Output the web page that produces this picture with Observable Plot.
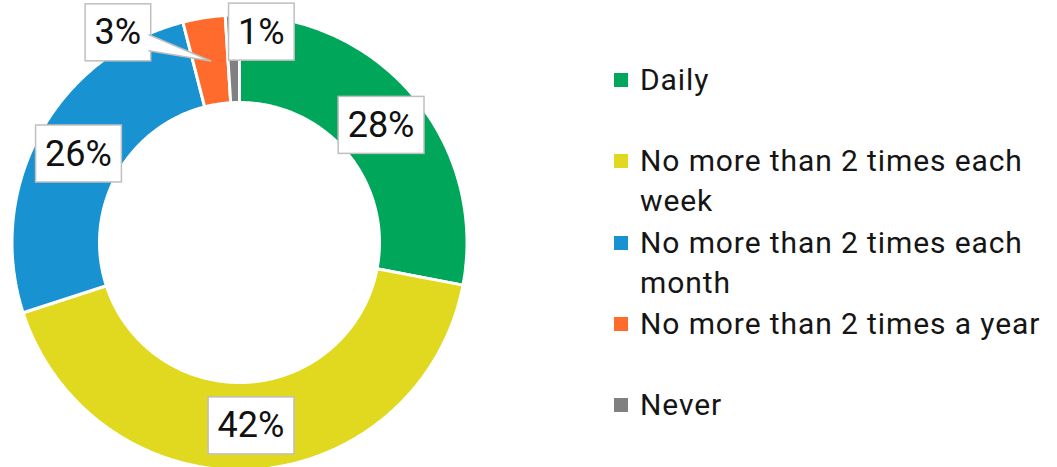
<!DOCTYPE html>
<html>
<head>
<meta charset="utf-8">
<script src="https://cdn.jsdelivr.net/npm/d3@7"></script>
<script src="https://cdn.jsdelivr.net/npm/@observablehq/plot@0.6"></script>
<style>
  html, body { margin: 0; padding: 0; background: #fff; }
  #wrap { position: relative; width: 1057px; height: 467px; overflow: hidden; font-family: Roboto, sans-serif; }
  #legend { position: absolute; left: 614px; top: 60px; width: 443px; }
  .item { display: flex; align-items: flex-start; height: 81.25px; }
  .sw { width: 14px; height: 14px; margin-top: 13px; margin-right: 12px; flex: none; }
  .lab { font-size: 30px; line-height: 40px; letter-spacing: 0.9px; color: #151515; width: 417px; }
</style>
</head>
<body>
<div id="wrap"><div id="legend"></div></div>
<script>
// ---- data ----
const categories = ["Daily", "No more than 2 times each week", "No more than 2 times each month", "No more than 2 times a year", "Never"];
const values = [28, 42, 26, 3, 1];
const colors = ["#00A65A", "#E0D91F", "#1892D0", "#FF6B2C", "#808080"];
const labelTexts = values.map(v => `${v}%`);

// ---- layout ----
const S = 227.5, CX = 239, CY = 242;      // px radius and centre of the ring
const R_OUT = 1, R_IN = 140 / 227.5, R_MID = (R_OUT + R_IN) / 2;
const px = 1 / S;                          // data units per pixel
const smallOffsets = {3: [-86, 15], 4: [29, 17]}; // outside labels for thin slices

const arcs = d3.pie().sort(null).value(d => d)(values);

const pts = [];
arcs.forEach((a, i) => {
  const n = Math.max(2, Math.ceil((a.endAngle - a.startAngle) / (Math.PI / 360)));
  const ring = [];
  for (let k = 0; k <= n; k++) {
    const t = a.startAngle + (a.endAngle - a.startAngle) * k / n;
    ring.push([R_OUT * Math.sin(t), R_OUT * Math.cos(t)]);
  }
  for (let k = n; k >= 0; k--) {
    const t = a.startAngle + (a.endAngle - a.startAngle) * k / n;
    ring.push([R_IN * Math.sin(t), R_IN * Math.cos(t)]);
  }
  ring.push(ring[0]);
  ring.forEach(([x, y]) => pts.push({cat: categories[i], x, y}));
});

const labels = arcs.map((a, i) => {
  const m = (a.startAngle + a.endAngle) / 2;
  if (smallOffsets[i]) {
    const [dx, dy] = smallOffsets[i];
    return {text: labelTexts[i], x: R_OUT * Math.sin(m) + dx * px, y: R_OUT * Math.cos(m) - dy * px};
  }
  return {text: labelTexts[i], x: R_MID * Math.sin(m), y: R_MID * Math.cos(m)};
});

// callout wedge from the 3% label to its slice
const oa = arcs[3], om = (oa.startAngle + oa.endAngle) / 2;
const l3 = labels[3];
const wedge = [
  {x: l3.x + 31 * px, y: l3.y - 2 * px},
  {x: R_MID * Math.sin(om), y: R_MID * Math.cos(om)},
  {x: l3.x + 31 * px, y: l3.y - 18 * px}
];

const chart = Plot.plot({
  width: 1057, height: 467, margin: 0,
  x: {domain: [-1, 1], range: [CX - S, CX + S], axis: null},
  y: {domain: [-1, 1], range: [CY + S, CY - S], axis: null},
  color: {domain: categories, range: colors},
  style: {fontFamily: "Roboto, sans-serif", background: "white", overflow: "visible"},
  marks: [
    Plot.line(pts, {x: "x", y: "y", z: "cat", fill: "cat", stroke: "white", strokeWidth: 3, strokeLinejoin: "miter"}),
    Plot.text(labels, {x: "x", y: "y", text: "text", fontSize: 36, fill: "#111"}),
    Plot.line(wedge, {x: "x", y: "y", fill: "white", stroke: "#BFBFBF", strokeWidth: 1.5})
  ]
});
document.getElementById("wrap").prepend(chart);

// boxes behind data labels
const tg = chart.querySelector('g[aria-label="text"]');
tg.querySelectorAll("text").forEach(t => {
  const b = t.getBBox();
  const w = b.width + 19, h = 57;
  const cx = b.x + b.width / 2, cy = b.y + b.height / 2;
  const r = document.createElementNS("http://www.w3.org/2000/svg", "rect");
  r.setAttribute("x", cx - w / 2);
  r.setAttribute("y", cy - h / 2);
  r.setAttribute("width", w);
  r.setAttribute("height", h);
  r.setAttribute("fill", "white");
  r.setAttribute("stroke", "#BFBFBF");
  r.setAttribute("stroke-width", 1.5);
  const tr = t.getAttribute("transform");
  if (tr) r.setAttribute("transform", tr);
  tg.insertBefore(r, t);
});

// legend
const leg = document.getElementById("legend");
categories.forEach((c, i) => {
  const it = document.createElement("div");
  it.className = "item";
  const sw = document.createElement("span");
  sw.className = "sw";
  sw.style.background = colors[i];
  const lab = document.createElement("span");
  lab.className = "lab";
  lab.textContent = c;
  it.append(sw, lab);
  leg.append(it);
});
</script>
</body>
</html>
